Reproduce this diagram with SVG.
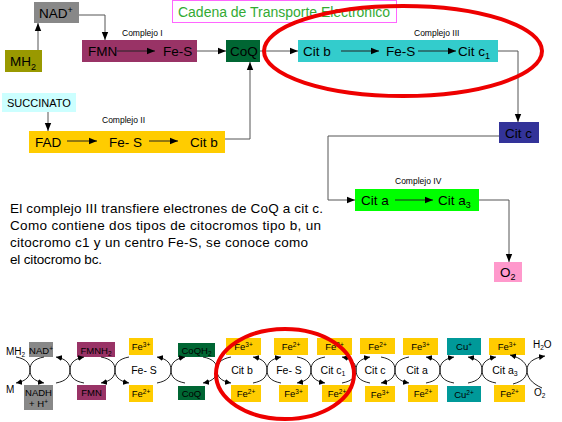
<svg xmlns="http://www.w3.org/2000/svg" width="562" height="422" viewBox="0 0 562 422">
<style>
text{font-family:"Liberation Sans",Arial,sans-serif;fill:#000}
.big{font-size:13.5px}
.cx{font-size:8.5px}
.par{font-size:13.5px}
.sm{font-size:10px}
.mid{font-size:10.5px;text-anchor:middle}
.bx{font-size:9.5px;text-anchor:middle}
.conn{fill:none;stroke:#555;stroke-width:1}
.inn{fill:none;stroke:#222;stroke-width:1}
.arc{fill:none;stroke:#222;stroke-width:1}
.red{fill:none;stroke:#ee0000;stroke-width:4}
</style>
<defs>
<marker id="ah" markerUnits="userSpaceOnUse" markerWidth="8" markerHeight="8" refX="8" refY="4" orient="auto">
<path d="M0,0.8 L8,4 L0,7.2 z" fill="#000"/>
</marker>
<marker id="sa" markerUnits="userSpaceOnUse" markerWidth="7" markerHeight="6" refX="6" refY="3" orient="auto">
<path d="M0,0 L6,3 L0,6 z" fill="#000"/>
</marker>
</defs>

<!-- Title -->
<g id="title">
<rect x="172.5" y="0.5" width="224" height="22" fill="#fff" stroke="#ff66ff" stroke-width="1"/>
<text x="178" y="17" font-size="14" style="fill:#33aa33" textLength="212">Cadena de Transporte Electronico</text>
</g>

<!-- Top nodes -->
<g id="nad">
<rect x="34" y="2" width="45" height="21" fill="#888888"/>
<text class="big" x="39" y="18">NAD<tspan font-size="9" dy="-5">+</tspan></text>
</g>
<g id="mh2">
<rect x="5" y="50" width="37" height="22" fill="#999900"/>
<text class="big" x="10" y="66">MH<tspan font-size="9" dy="4">2</tspan></text>
</g>
<g id="complejo1">
<rect x="82" y="40" width="115" height="22" fill="#993366"/>
<text class="big" x="88" y="56">FMN</text>
<text class="big" x="163" y="56">Fe-S</text>
<text class="cx" x="122" y="36">Complejo I</text>
</g>
<g id="coq">
<rect x="226" y="40" width="34" height="22" fill="#006633"/>
<text class="big" x="230" y="56">CoQ</text>
</g>
<g id="complejo3">
<rect x="298" y="40" width="200" height="22" fill="#33cccc"/>
<text class="big" x="303" y="56">Cit b</text>
<text class="big" x="386" y="56">Fe-S</text>
<text class="big" x="458" y="56">Cit c<tspan font-size="9" dy="3">1</tspan></text>
<text class="cx" x="414" y="36">Complejo III</text>
</g>
<g id="citc">
<rect x="499" y="122" width="40" height="21" fill="#333399"/>
<text class="big" x="505" y="138">Cit c</text>
</g>
<g id="complejo4">
<rect x="355" y="189" width="124" height="22" fill="#00ff00"/>
<text class="big" x="361" y="205">Cit a</text>
<text class="big" x="438" y="205">Cit a<tspan font-size="9" dy="3">3</tspan></text>
<text class="cx" x="395" y="184">Complejo IV</text>
</g>
<g id="o2">
<rect x="494" y="262" width="28" height="20" fill="#ff99cc"/>
<text class="big" x="500" y="277">O<tspan font-size="9" dy="3">2</tspan></text>
</g>
<g id="succinato">
<rect x="2" y="93" width="74" height="19" fill="#ccffff"/>
<text x="7" y="107" font-size="11">SUCCINATO</text>
</g>
<g id="complejo2">
<rect x="29" y="131" width="196" height="22" fill="#ffcc00"/>
<text class="big" x="35" y="147">FAD</text>
<text class="big" x="109" y="147">Fe- S</text>
<text class="big" x="190" y="147">Cit b</text>
<text class="cx" x="102" y="123">Complejo II</text>
</g>

<!-- Top connectors -->
<g id="connectors">
<path class="conn" d="M38,50 V23" marker-end="url(#ah)"/>
<path class="conn" d="M79,15 H105 V40" marker-end="url(#ah)"/>
<path class="inn" d="M117,51 H155" marker-end="url(#ah)"/>
<path class="conn" d="M197,51 H226" marker-end="url(#ah)"/>
<path class="conn" d="M260,51 H298" marker-end="url(#ah)"/>
<path class="inn" d="M341,51 H379" marker-end="url(#ah)"/>
<path class="inn" d="M418,51 H456" marker-end="url(#ah)"/>
<path class="conn" d="M498,51 H518 V122" marker-end="url(#ah)"/>
<path class="conn" d="M499,136 H328 V200 H355" marker-end="url(#ah)"/>
<path class="inn" d="M395,200 H433" marker-end="url(#ah)"/>
<path class="conn" d="M479,200 H509 V262" marker-end="url(#ah)"/>
<path class="conn" d="M48,112 V131" marker-end="url(#ah)"/>
<path class="inn" d="M67,141 H97" marker-end="url(#ah)"/>
<path class="inn" d="M149,141 H178" marker-end="url(#ah)"/>
<path class="conn" d="M225,139 H250 V62" marker-end="url(#ah)"/>
</g>

<!-- Paragraph -->
<g id="texto">
<text class="par" x="10" y="213" textLength="313">El complejo III transfiere electrones de CoQ a cit c.</text>
<text class="par" x="10" y="230" textLength="311">Como contiene dos tipos de citocromos tipo b, un</text>
<text class="par" x="10" y="247" textLength="298">citocromo c1 y un centro Fe-S, se conoce como</text>
<text class="par" x="10" y="264" textLength="92">el citocromo bc.</text>
</g>

<!-- Bottom row boxes -->
<g id="b-nad"><rect x="29" y="342" width="24" height="15" fill="#888888"/><text class="bx" x="41" y="353.5">NAD<tspan font-size="6.5" dy="-3">+</tspan></text></g>
<g id="b-nadh"><rect x="24" y="385" width="29" height="25" fill="#888888"/><text class="bx" x="38.5" y="396">NADH</text><text class="bx" x="38.5" y="407">+ H<tspan font-size="6.5" dy="-3">+</tspan></text></g>
<g id="b-fmnh2"><rect x="77" y="342" width="38" height="15" fill="#993366"/><text class="bx" x="96" y="353.5">FMNH<tspan font-size="6.5" dy="2">2</tspan></text></g>
<g id="b-fmn"><rect x="77" y="385" width="29" height="15" fill="#993366"/><text class="bx" x="91.5" y="396">FMN</text></g>
<g id="b-fe1a"><rect x="129" y="338" width="24" height="17" fill="#ffcc00"/><text class="bx" x="141" y="350">Fe<tspan font-size="6.5" dy="-3">3+</tspan></text></g>
<g id="b-fe1b"><rect x="129" y="385" width="24" height="17" fill="#ffcc00"/><text class="bx" x="141" y="397">Fe<tspan font-size="6.5" dy="-3">2+</tspan></text></g>
<g id="b-coqh2"><rect x="178" y="343" width="37" height="14" fill="#006633"/><text class="bx" x="196.5" y="353.5">CoQH<tspan font-size="6.5" dy="2">2</tspan></text></g>
<g id="b-coq"><rect x="178" y="386" width="27" height="14" fill="#006633"/><text class="bx" x="191.5" y="396.5">CoQ</text></g>
<g id="b-fe2a"><rect x="226" y="338" width="35" height="17" fill="#ffcc00"/><text class="bx" x="243.5" y="350">Fe<tspan font-size="6.5" dy="-3">3+</tspan></text></g>
<g id="b-fe2b"><rect x="231" y="385" width="30" height="17" fill="#ffcc00"/><text class="bx" x="246" y="397">Fe<tspan font-size="6.5" dy="-3">2+</tspan></text></g>
<g id="b-fe3a"><rect x="274" y="338" width="34" height="17" fill="#ffcc00"/><text class="bx" x="291" y="350">Fe<tspan font-size="6.5" dy="-3">2+</tspan></text></g>
<g id="b-fe3b"><rect x="279" y="385" width="29" height="17" fill="#ffcc00"/><text class="bx" x="293.5" y="397">Fe<tspan font-size="6.5" dy="-3">3+</tspan></text></g>
<g id="b-fe4a"><rect x="317" y="338" width="35" height="17" fill="#ffcc00"/><text class="bx" x="334.5" y="350">Fe<tspan font-size="6.5" dy="-3">3+</tspan></text></g>
<g id="b-fe4b"><rect x="322" y="385" width="30" height="17" fill="#ffcc00"/><text class="bx" x="337" y="397">Fe<tspan font-size="6.5" dy="-3">2+</tspan></text></g>
<g id="b-fe5a"><rect x="360" y="338" width="35" height="16" fill="#ffcc00"/><text class="bx" x="377.5" y="349.5">Fe<tspan font-size="6.5" dy="-3">2+</tspan></text></g>
<g id="b-fe5b"><rect x="365" y="386" width="30" height="16" fill="#ffcc00"/><text class="bx" x="380" y="397.5">Fe<tspan font-size="6.5" dy="-3">3+</tspan></text></g>
<g id="b-fe6a"><rect x="403" y="338" width="35" height="17" fill="#ffcc00"/><text class="bx" x="420.5" y="350">Fe<tspan font-size="6.5" dy="-3">3+</tspan></text></g>
<g id="b-fe6b"><rect x="408" y="385" width="30" height="17" fill="#ffcc00"/><text class="bx" x="423" y="397">Fe<tspan font-size="6.5" dy="-3">2+</tspan></text></g>
<g id="b-cu1"><rect x="447" y="338" width="34" height="17" fill="#009999"/><text class="bx" x="464" y="350">Cu<tspan font-size="6.5" dy="-3">+</tspan></text></g>
<g id="b-cu2"><rect x="447" y="386" width="34" height="16" fill="#009999"/><text class="bx" x="464" y="397.5">Cu<tspan font-size="6.5" dy="-3">2+</tspan></text></g>
<g id="b-fe7a"><rect x="489" y="338" width="36" height="17" fill="#ffcc00"/><text class="bx" x="507" y="350">Fe<tspan font-size="6.5" dy="-3">3+</tspan></text></g>
<g id="b-fe7b"><rect x="494" y="385" width="31" height="17" fill="#ffcc00"/><text class="bx" x="509.5" y="397">Fe<tspan font-size="6.5" dy="-3">2+</tspan></text></g>

<!-- Bottom free labels -->
<g id="b-labels">
<text class="sm" x="6" y="355">MH<tspan font-size="6.5" dy="2">2</tspan></text>
<text class="sm" x="6" y="393">M</text>
<text class="sm" x="533" y="348">H<tspan font-size="6.5" dy="2">2</tspan><tspan dy="-2">O</tspan></text>
<text class="sm" x="534" y="396">O<tspan font-size="6.5" dy="2">2</tspan></text>
<text class="mid" x="144" y="374">Fe- S</text>
<text class="mid" x="242" y="374">Cit b</text>
<text class="mid" x="289" y="374">Fe- S</text>
<text class="mid" x="333" y="374">Cit c<tspan font-size="7" dy="2">1</tspan></text>
<text class="mid" x="375" y="374">Cit c</text>
<text class="mid" x="417" y="374">Cit a</text>
<text class="mid" x="505" y="374">Cit a<tspan font-size="7" dy="2">3</tspan></text>
</g>

<!-- Bottom coupled-reaction arcs -->
<g id="arcs" class="arc">
<path d="M16,357 C27,359 30,364 30,370 C30,376 27,381 16,383" marker-end="url(#sa)"/>
<path d="M44,357 C33,359 30,364 30,370 C30,376 33,381 44,383" marker-end="url(#sa)"/>
<path d="M56,383 C67,381 70,376 70,370 C70,364 67,359 56,357" marker-end="url(#sa)"/>
<path d="M84,383 C73,381 70,376 70,370 C70,364 73,359 84,357" marker-end="url(#sa)"/>
<path d="M101,357 C112,359 115,364 115,370 C115,376 112,381 101,383" marker-end="url(#sa)"/>
<path d="M129,357 C118,359 115,364 115,370 C115,376 118,381 129,383" marker-end="url(#sa)"/>
<path d="M157,383 C168,381 171,376 171,370 C171,364 168,359 157,357" marker-end="url(#sa)"/>
<path d="M185,383 C174,381 171,376 171,370 C171,364 174,359 185,357" marker-end="url(#sa)"/>
<path d="M203,357 C214,359 217,364 217,370 C217,376 214,381 203,383" marker-end="url(#sa)"/>
<path d="M231,357 C220,359 217,364 217,370 C217,376 220,381 231,383" marker-end="url(#sa)"/>
<path d="M253,383 C264,381 267,376 267,370 C267,364 264,359 253,357" marker-end="url(#sa)"/>
<path d="M281,383 C270,381 267,376 267,370 C267,364 270,359 281,357" marker-end="url(#sa)"/>
<path d="M297,357 C308,359 311,364 311,370 C311,376 308,381 297,383" marker-end="url(#sa)"/>
<path d="M325,357 C314,359 311,364 311,370 C311,376 314,381 325,383" marker-end="url(#sa)"/>
<path d="M342,383 C353,381 356,376 356,370 C356,364 353,359 342,357" marker-end="url(#sa)"/>
<path d="M370,383 C359,381 356,376 356,370 C356,364 359,359 370,357" marker-end="url(#sa)"/>
<path d="M381,357 C392,359 395,364 395,370 C395,376 392,381 381,383" marker-end="url(#sa)"/>
<path d="M409,357 C398,359 395,364 395,370 C395,376 398,381 409,383" marker-end="url(#sa)"/>
<path d="M426,383 C437,381 440,376 440,370 C440,364 437,359 426,357" marker-end="url(#sa)"/>
<path d="M454,383 C443,381 440,376 440,370 C440,364 443,359 454,357" marker-end="url(#sa)"/>
<path d="M468,383 C479,381 482,376 482,370 C482,364 479,359 468,357" marker-end="url(#sa)"/>
<path d="M496,383 C485,381 482,376 482,370 C482,364 485,359 496,357" marker-end="url(#sa)"/>
<path d="M513,384 C524,381 527,376 527,370 C527,364 522,358 510,355" marker-end="url(#sa)"/>
<path d="M542,388 C531,383 527,377 527,370 C527,363 533,358 545,356" marker-end="url(#sa)"/>
</g>

<!-- Red highlight ellipses -->
<g id="highlight">
<ellipse class="red" cx="403" cy="51" rx="139" ry="45"/>
<ellipse class="red" cx="285" cy="374" rx="69" ry="45"/>
</g>
</svg>
